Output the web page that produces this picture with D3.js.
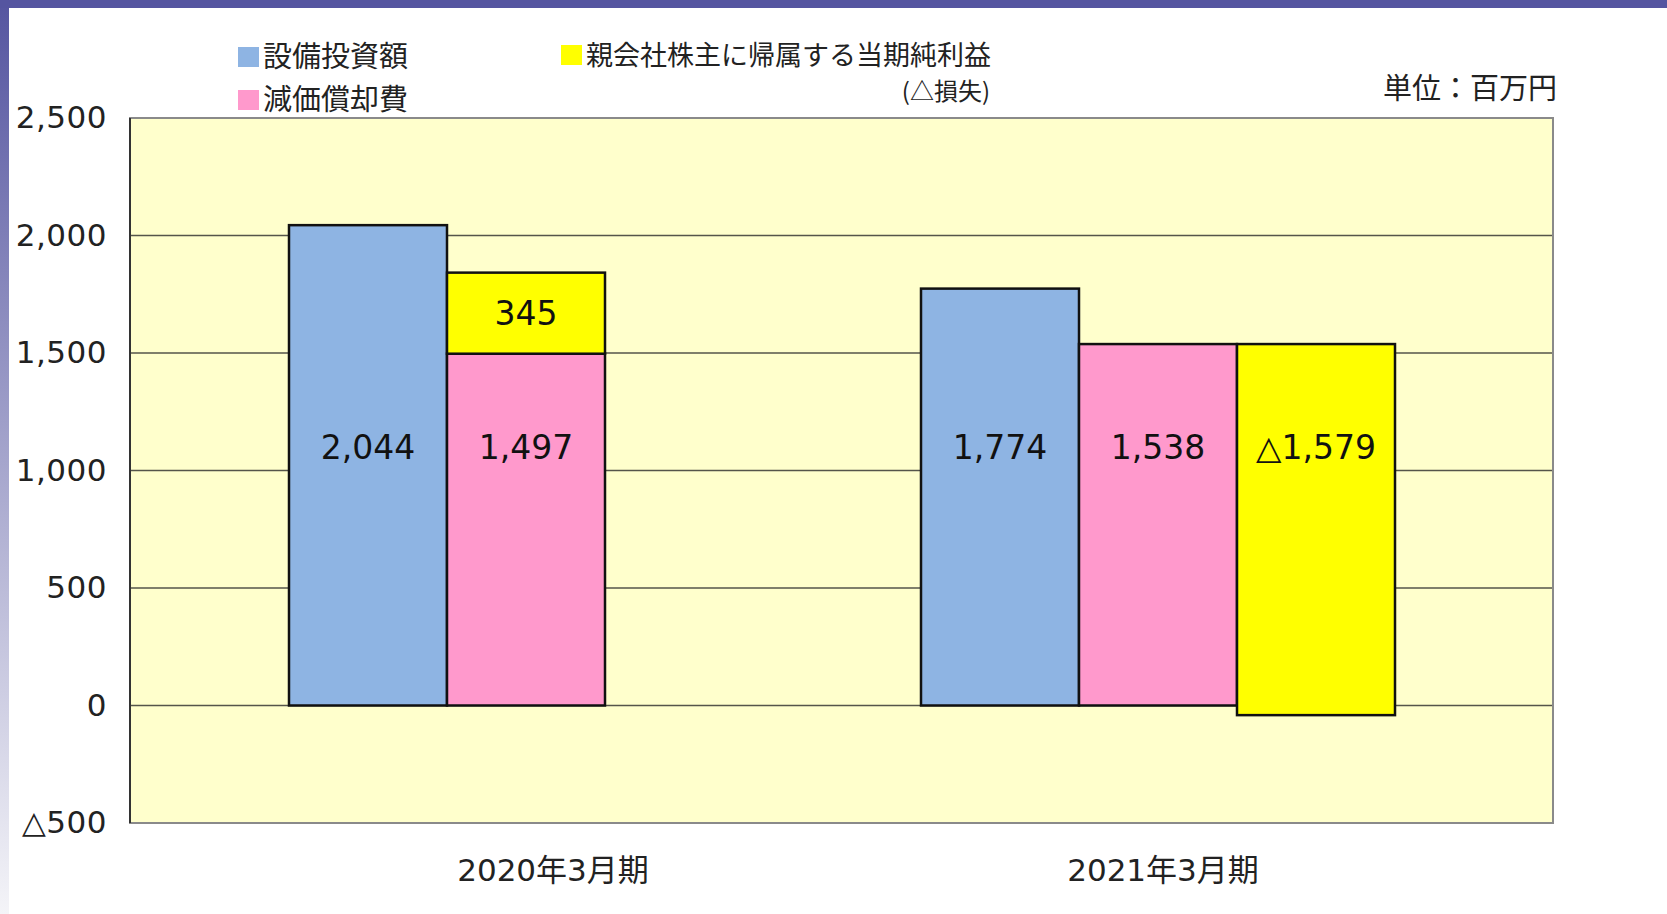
<!DOCTYPE html>
<html lang="ja">
<head>
<meta charset="utf-8">
<title>設備投資額・減価償却費・当期純利益</title>
<script src="https://cdn.jsdelivr.net/npm/d3@7"></script>
<style>
  html, body { margin: 0; padding: 0; background: #fff; overflow: hidden; }
  svg { display: block; }
</style>
</head>
<body>
<div id="chart"></div>
<script>
// values (百万円)
const categories = ['2020年3月期', '2021年3月期'];
const capex = [2044, 1774];
const depreciation = [1497, 1538];
const netIncome = [345, -1579];
const yTickValues = [-500, 0, 500, 1000, 1500, 2000, 2500];
const yTickLabels = ['△500', '0', '500', '1,000', '1,500', '2,000', '2,500'];
const seriesNames = ['設備投資額', '減価償却費', '親会社株主に帰属する当期純利益'];

const width = 1667;
const height = 914;
const plot = { left: 130, right: 1553, top: 118, bottom: 823 };
const colors = { capex: '#8eb4e3', dep: '#ff99cc', net: '#ffff00' };
const numFont = '"DejaVu Sans", "Noto Sans CJK JP", sans-serif';
const jpFont = '"Noto Sans CJK JP", sans-serif';
const labelLevel = 1100;   // the value labels sit at this height in the source

const svg = d3.select('#chart')
  .append('svg')
  .attr('width', width)
  .attr('height', height);

// slide frame: purple bar on top, fading strip on the left
const defs = svg.append('defs');
const fade = defs.append('linearGradient')
  .attr('id', 'fade')
  .attr('x1', 0).attr('y1', 0).attr('x2', 0).attr('y2', 1);
fade.append('stop').attr('offset', '0%').attr('stop-color', '#5555a0');
fade.append('stop').attr('offset', '100%').attr('stop-color', '#f4f4f8');

svg.append('rect').attr('x', 0).attr('y', 0).attr('width', 9).attr('height', height).attr('fill', 'url(#fade)');
svg.append('rect').attr('x', 0).attr('y', 0).attr('width', width).attr('height', 8).attr('fill', '#5555a0');

const y = d3.scaleLinear()
  .domain([d3.min(yTickValues), d3.max(yTickValues)])
  .range([plot.bottom, plot.top]);

// each category gets four slots, three of them can hold a bar
const x0 = d3.scaleBand().domain(categories).range([289, plot.right]);
const x1 = d3.scaleBand().domain(['capex', 'dep', 'net']).range([0, x0.bandwidth() * 0.75]);
const xLabel = d3.scalePoint().domain(categories).range([553, 1163]);

const fmt = v => (v < 0 ? '△' : '') + d3.format(',')(Math.abs(v));

// plot area
svg.append('rect')
  .attr('x', plot.left).attr('y', plot.top)
  .attr('width', plot.right - plot.left)
  .attr('height', plot.bottom - plot.top)
  .attr('fill', '#ffffcc');

svg.append('g')
  .selectAll('line')
  .data(yTickValues.filter(v => v > y.domain()[0] && v < y.domain()[1]))
  .enter()
  .append('line')
  .attr('x1', plot.left).attr('x2', plot.right)
  .attr('y1', d => y(d)).attr('y2', d => y(d))
  .attr('stroke', '#55554a')
  .attr('stroke-width', 1.5);

// bars: a profit is stacked on depreciation, a loss hangs down from its top in the next slot
const bars = [];
const labels = [];
categories.forEach((c, i) => {
  bars.push({ c, slot: 'capex', y0: 0, y1: capex[i] });
  bars.push({ c, slot: 'dep', y0: 0, y1: depreciation[i] });
  labels.push({ c, slot: 'capex', v: labelLevel, text: fmt(capex[i]) });
  labels.push({ c, slot: 'dep', v: labelLevel, text: fmt(depreciation[i]) });
  if (netIncome[i] >= 0) {
    bars.push({ c, slot: 'dep', color: 'net', y0: depreciation[i], y1: depreciation[i] + netIncome[i] });
    labels.push({ c, slot: 'dep', v: depreciation[i] + netIncome[i] / 2, text: fmt(netIncome[i]) });
  } else {
    bars.push({ c, slot: 'net', y0: depreciation[i] + netIncome[i], y1: depreciation[i] });
    labels.push({ c, slot: 'net', v: labelLevel, text: fmt(netIncome[i]) });
  }
});

svg.append('g')
  .selectAll('rect')
  .data(bars)
  .enter()
  .append('rect')
  .attr('x', d => x0(d.c) + x1(d.slot))
  .attr('width', x1.bandwidth())
  .attr('y', d => y(d.y1))
  .attr('height', d => y(d.y0) - y(d.y1))
  .attr('fill', d => colors[d.color || d.slot])
  .attr('stroke', '#111')
  .attr('stroke-width', 2.5);

svg.append('g')
  .selectAll('text')
  .data(labels)
  .enter()
  .append('text')
  .attr('x', d => x0(d.c) + x1(d.slot) + x1.bandwidth() / 2)
  .attr('y', d => y(d.v))
  .attr('dy', '0.36em')
  .attr('text-anchor', 'middle')
  .style('font-family', numFont)
  .style('font-size', '33px')
  .attr('fill', '#111')
  .text(d => d.text);

// frame of the plot area
svg.append('rect')
  .attr('x', plot.left).attr('y', plot.top)
  .attr('width', plot.right - plot.left)
  .attr('height', plot.bottom - plot.top)
  .attr('fill', 'none')
  .attr('stroke', '#8a8a8a')
  .attr('stroke-width', 2);

svg.append('line')
  .attr('x1', plot.left).attr('x2', plot.left)
  .attr('y1', plot.top).attr('y2', plot.bottom)
  .attr('stroke', '#333')
  .attr('stroke-width', 2);

// y axis labels
const yAxis = d3.axisLeft(y)
  .tickValues(yTickValues)
  .tickFormat((d, i) => yTickLabels[i])
  .tickSize(0)
  .tickPadding(0);

const yAxisG = svg.append('g')
  .attr('transform', `translate(107,0)`)
  .call(yAxis);
yAxisG.select('.domain').remove();
yAxisG.selectAll('text')
  .style('font-family', numFont)
  .style('font-size', '31px')
  .style('letter-spacing', '0.5px')
  .attr('fill', '#222');

// category labels
svg.append('g')
  .selectAll('text')
  .data(categories)
  .enter()
  .append('text')
  .attr('x', d => xLabel(d))
  .attr('y', 870)
  .attr('dy', '0.36em')
  .attr('text-anchor', 'middle')
  .style('font-family', numFont)
  .style('font-size', '31px')
  .attr('fill', '#222')
  .text(d => d);

// legend
const legendItems = [
  { name: seriesNames[0], color: colors.capex, x: 238, y: 57, size: 29 },
  { name: seriesNames[1], color: colors.dep, x: 238, y: 100, size: 29 },
  { name: seriesNames[2], color: colors.net, x: 561, y: 55, size: 27 }
];

const legend = svg.append('g')
  .selectAll('g')
  .data(legendItems)
  .enter()
  .append('g')
  .attr('transform', d => `translate(${d.x},${d.y})`);

legend.append('rect')
  .attr('x', 0).attr('y', -10)
  .attr('width', 21).attr('height', 20)
  .attr('fill', d => d.color);

legend.append('text')
  .attr('x', 25)
  .attr('dy', '0.36em')
  .style('font-family', jpFont)
  .style('font-size', d => d.size + 'px')
  .attr('fill', '#222')
  .text(d => d.name);

svg.append('text')
  .attr('x', 990).attr('y', 91)
  .attr('dy', '0.36em')
  .attr('text-anchor', 'end')
  .style('font-family', jpFont)
  .style('font-size', '24px')
  .attr('fill', '#222')
  .text('(△損失)');

svg.append('text')
  .attr('x', 1557).attr('y', 89)
  .attr('dy', '0.36em')
  .attr('text-anchor', 'end')
  .style('font-family', jpFont)
  .style('font-size', '29px')
  .attr('fill', '#222')
  .text('単位：百万円');
</script>
</body>
</html>
